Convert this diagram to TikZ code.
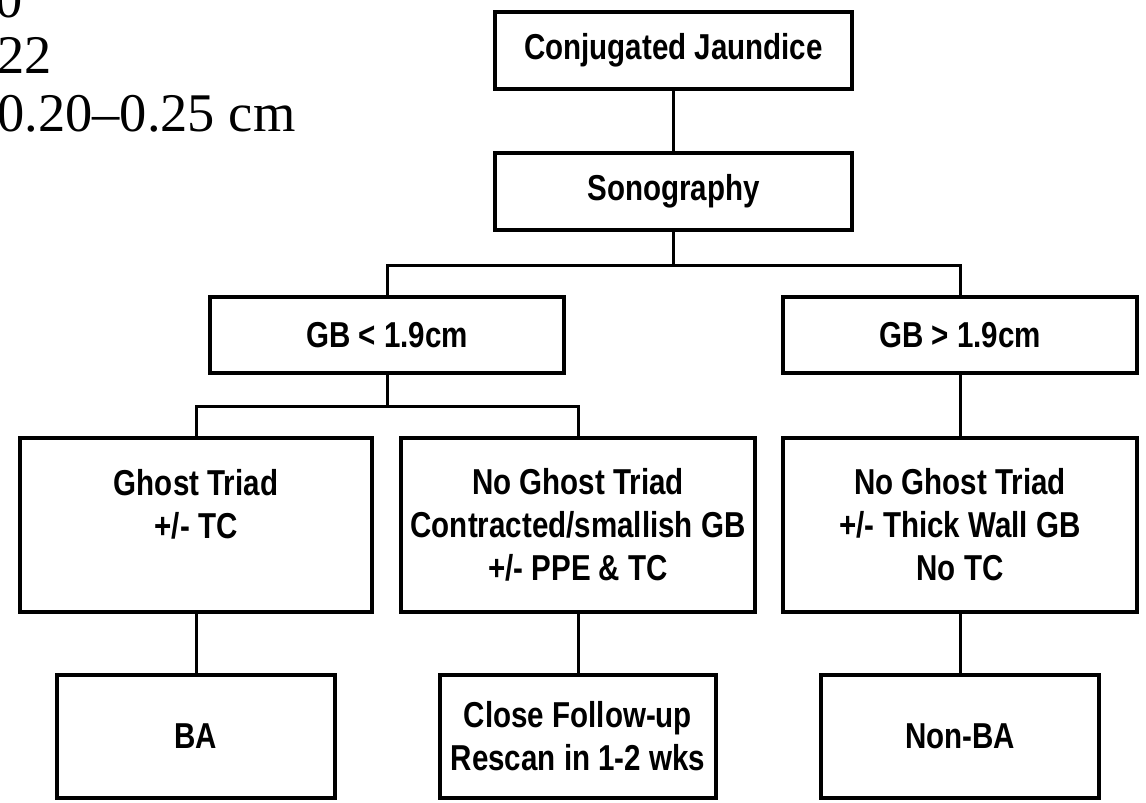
\documentclass[tikz,border=0pt]{standalone}
\usepackage{fontspec}
\newfontfamily\boxfont[FakeStretch=0.82]{Liberation Sans}
\newfontfamily\notefont{Liberation Serif}

\begin{document}
\begin{tikzpicture}[x=0.02cm, y=-0.02cm,
	box/.style={draw, line width=0.08cm, align=center, inner sep=0pt, font=\boxfont\bfseries\fontsize{20.5}{24.5}\selectfont},
	link/.style={line width=0.06cm},
	note/.style={anchor=base west, inner sep=0pt, font=\notefont\fontsize{31}{34}\selectfont}]
	\clip (0,0) rectangle (1146,802);

	\node[note] (dimA) at (-5,17) {0};
	\node[note] (dimB) at (-3,73) {22};
	\node[note] (dimC) at (-3,131) {0.20–0.25 cm};

	\node[box, minimum width=7.14cm, minimum height=1.54cm] (jaundice) at (673.5,50.5) {Conjugated Jaundice};
	\node[box, minimum width=7.14cm, minimum height=1.54cm] (sono) at (673.5,191.5) {Sonography};
	\node[box, minimum width=7.08cm, minimum height=1.52cm] (small) at (387,335) {GB < 1.9cm};
	\node[box, minimum width=7.08cm, minimum height=1.52cm] (large) at (960,335) {GB > 1.9cm};

	\node[box, minimum width=7.06cm, minimum height=3.48cm] (ghost) at (196,525) {Ghost Triad\\+/- TC\\~};
	\node[box, minimum width=7.08cm, minimum height=3.48cm] (noghost) at (578,525) {No Ghost Triad\\Contracted/smallish GB\\+/- PPE \& TC};
	\node[box, minimum width=7.08cm, minimum height=3.48cm] (thick) at (960,525) {No Ghost Triad\\+/- Thick Wall GB\\No TC};

	\node[box, minimum width=5.56cm, minimum height=2.46cm] (ba) at (196,736.5) {BA};
	\node[box, minimum width=5.54cm, minimum height=2.46cm] (follow) at (578,736.5) {Close Follow-up\\Rescan in 1-2 wks};
	\node[box, minimum width=5.56cm, minimum height=2.46cm] (nonba) at (960,736.5) {Non-BA};

	\draw[link] (jaundice) -- (sono);
	\draw[link] (sono.south) -- ++(0,33) -| (small.north);
	\draw[link] (sono.south) -- ++(0,33) -| (large.north);
	\draw[link] (small.south) -- ++(0,31) -| (ghost.north);
	\draw[link] (small.south) -- ++(0,31) -| (noghost.north);
	\draw[link] (large) -- (thick);
	\draw[link] (ghost) -- (ba);
	\draw[link] (noghost) -- (follow);
	\draw[link] (thick) -- (nonba);
\end{tikzpicture}
\end{document}
